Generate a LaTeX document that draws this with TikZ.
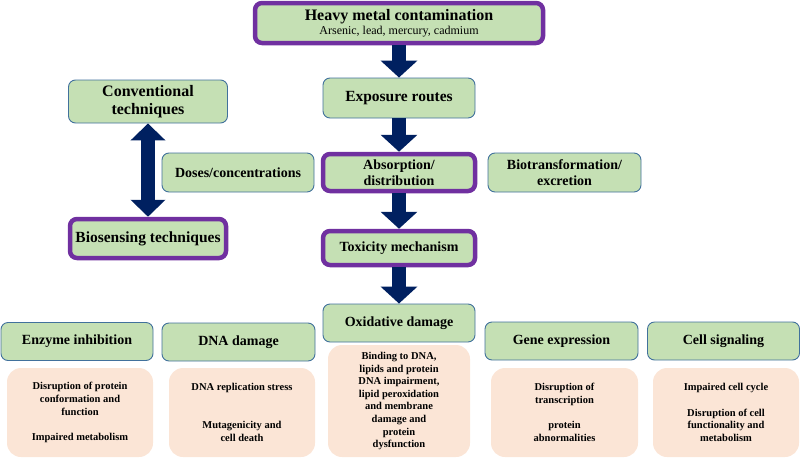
\documentclass[tikz,border=0pt]{standalone}
\usepackage{fontspec}
\setmainfont{Liberation Serif}
\usetikzlibrary{arrows.meta}
\definecolor{boxgreen}{HTML}{C5E0B4}
\definecolor{boxedge}{HTML}{41719C}
\definecolor{keypurple}{HTML}{7030A0}
\definecolor{boxpink}{HTML}{FBE5D6}
\definecolor{arrownavy}{HTML}{002060}

\begin{document}
\begin{tikzpicture}[x=1pt,y=-1pt,
        green node/.style={draw=boxedge,line width=0.9pt,fill=boxgreen,rounded corners=7pt,
          align=center,inner sep=1pt,font=\bfseries\fontsize{14}{15.5}\selectfont},
        key node/.style={green node,draw=keypurple,line width=4.5pt},
        pink node/.style={fill=boxpink,rounded corners=14pt,align=center,inner sep=1pt,
          minimum width=146pt,minimum height=89pt,font=\bfseries\fontsize{10.5}{12.6}\selectfont},
        big arrow/.style={draw=arrownavy,line width=14pt,-{Triangle[width=36pt,length=17pt]}}]

      \useasboundingbox (0,0) rectangle (800,466);

      % centre column
      \node[key node,minimum width=288pt,minimum height=40pt] (heavy) at (399,23)
        {{\fontsize{16}{17}\selectfont Heavy metal contamination}\\[-1pt]
         {\mdseries\fontsize{12}{12}\selectfont Arsenic, lead, mercury, cadmium}};
      \node[green node,minimum width=152pt,minimum height=40pt,font=\bfseries\fontsize{15.5}{17}\selectfont]
        (expo) at (399,98) {Exposure routes};
      \node[key node,minimum width=152pt,minimum height=37pt] (abs) at (399,172.5) {Absorption/\\distribution};
      \node[green node,minimum width=153pt,minimum height=39pt] (biotr) at (564.5,172.5) {Biotransformation/\\excretion};
      \node[key node,minimum width=152pt,minimum height=34pt] (tox) at (399,248) {Toxicity mechanism};

      % left side
      \node[green node,minimum width=159pt,minimum height=43pt,font=\bfseries\fontsize{16}{17.5}\selectfont]
        (conv) at (148,101.5) {Conventional\\techniques};
      \node[green node,minimum width=152pt,minimum height=39pt] (doses) at (238,172.5) {Doses/concentrations};
      \node[key node,minimum width=156pt,minimum height=39pt,font=\bfseries\fontsize{15.5}{17}\selectfont]
        (bios) at (148,238.5) {Biosensing techniques};

      % effects row
      \node[green node,minimum width=152pt,minimum height=38pt] (enz) at (77,341.5) {Enzyme inhibition};
      \node[green node,minimum width=153pt,minimum height=38pt] (dna) at (238.5,342) {DNA damage};
      \node[green node,minimum width=152pt,minimum height=38pt] (ox) at (399,323) {Oxidative damage};
      \node[green node,minimum width=153pt,minimum height=38pt] (gene) at (561.5,341) {Gene expression};
      \node[green node,minimum width=152pt,minimum height=38pt] (cell) at (723.5,341) {Cell signaling};

      \node[pink node] (enzp) at (80,412.5)
        {Disruption of protein\\conformation and\\function\\[12.6pt]Impaired metabolism};
      \node[pink node] (dnap) at (242,412.5)
        {DNA replication stress\\[25pt]Mutagenicity and\\cell death};
      \node[pink node,minimum width=142pt,minimum height=112pt] (oxp) at (399,401)
        {Binding to DNA,\\lipids and protein\\DNA impairment,\\lipid peroxidation\\and membrane\\damage and\\protein\\dysfunction};
      \node[pink node,minimum width=147pt] (genep) at (564.5,412.5)
        {Disruption of\\transcription\\[12.6pt]protein\\abnormalities};
      \node[pink node] (cellp) at (726,412.5)
        {Impaired cell cycle\\[12.6pt]Disruption of cell\\functionality and\\metabolism};

      % arrows
      \draw[big arrow] (heavy) -- (expo);
      \draw[big arrow] (expo) -- (abs);
      \draw[big arrow] (abs) -- (tox);
      \draw[big arrow] (tox) -- (ox);
      \draw[draw=arrownavy,line width=14pt,{Triangle[width=34pt,length=17pt]}-{Triangle[width=34pt,length=17pt]}]
        (conv) -- (bios);
\end{tikzpicture}
\end{document}
